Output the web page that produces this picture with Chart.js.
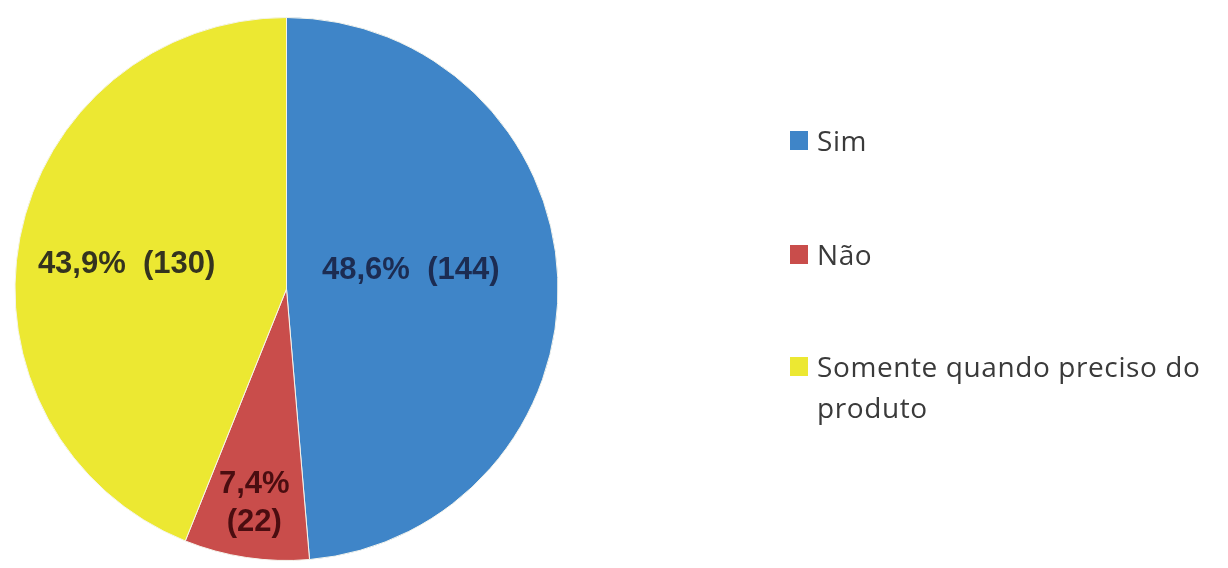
<!DOCTYPE html>
<html>
<head>
<meta charset="utf-8">
<script src="https://cdn.jsdelivr.net/npm/chart.js@4/dist/chart.umd.min.js"></script>
<style>
html,body{margin:0;padding:0;background:#fff;}
#wrap{position:relative;width:1228px;height:568px;}
</style>
</head>
<body>
<div id="wrap"><canvas id="c" width="1228" height="568"></canvas></div>
<script>
const categories = ["Sim", "Não", "Somente quando preciso do produto"];
const legendLines = [["Sim"], ["Não"], ["Somente quando preciso do", "produto"]];
const counts = [144, 22, 130];
const percentLabels = ["48,6%", "7,4%", "43,9%"];
const colors = ["#3f85c8", "#c94d4b", "#ece832"];
const labelColors = ["#1c2c52", "#4a0d10", "#34331f"];

const labelPlugin = {
  id: 'sliceLabels',
  afterDatasetsDraw(chart) {
    const ctx = chart.ctx;
    const meta = chart.getDatasetMeta(0);
    const fracs = [0.463, 0.80, 0.596];
    const angleShift = [-0.109, 0, -0.036];
    meta.data.forEach((arc, i) => {
      const p = arc.getProps(['x', 'y', 'startAngle', 'endAngle', 'outerRadius'], true);
      const mid = (p.startAngle + p.endAngle) / 2 + angleShift[i];
      const r = p.outerRadius * fracs[i];
      const cx = p.x + Math.cos(mid) * r;
      const cy = p.y + Math.sin(mid) * r;
      ctx.save();
      ctx.fillStyle = labelColors[i];
      ctx.font = 'bold 31px "Liberation Sans", Arial, sans-serif';
      ctx.textAlign = 'center';
      ctx.textBaseline = 'middle';
      const pct = percentLabels[i];
      const cnt = '(' + counts[i] + ')';
      if (i === 1) {
        ctx.fillText(pct, cx, cy - 19);
        ctx.fillText(cnt, cx, cy + 19);
      } else {
        ctx.fillText(pct + '  ' + cnt, cx, cy);
      }
      ctx.restore();
    });
  }
};

const legendPlugin = {
  id: 'sideLegend',
  afterDraw(chart) {
    const ctx = chart.ctx;
    const baselines = [151, 265, 377];
    ctx.save();
    ctx.font = '28px "Open Sans", "DejaVu Sans", sans-serif';
    if ('letterSpacing' in ctx) ctx.letterSpacing = '0.6px';
    ctx.textBaseline = 'alphabetic';
    ctx.textAlign = 'left';
    legendLines.forEach((lines, i) => {
      ctx.fillStyle = colors[i];
      ctx.fillRect(790, baselines[i] - 20, 18, 19);
      ctx.fillStyle = '#3a3a3a';
      lines.forEach((ln, j) => {
        ctx.fillText(ln, 817, baselines[i] + j * 41);
      });
    });
    ctx.restore();
  }
};

new Chart(document.getElementById('c'), {
  type: 'pie',
  data: {
    labels: categories,
    datasets: [{
      data: counts,
      backgroundColor: colors,
      borderColor: '#f4f4ec',
      borderWidth: 1
    }]
  },
  options: {
    responsive: false,
    animation: false,
    layout: { padding: { left: 14, right: 669, top: 17, bottom: 7 } },
    plugins: {
      legend: { display: false },
      tooltip: { enabled: false }
    }
  },
  plugins: [labelPlugin, legendPlugin]
});
</script>
</body>
</html>
